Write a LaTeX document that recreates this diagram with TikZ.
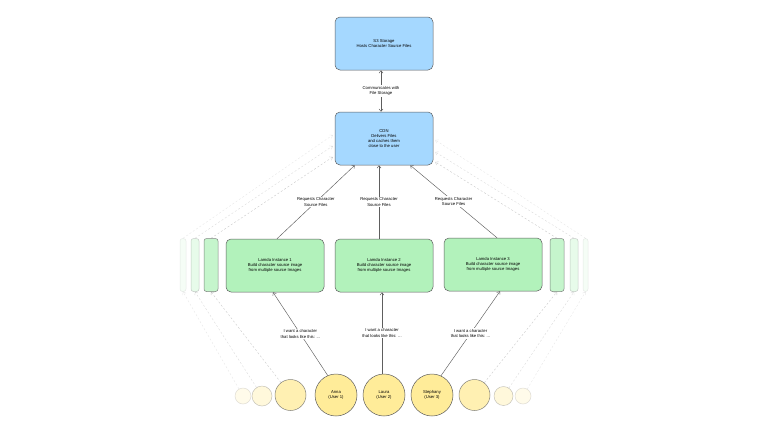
\documentclass[tikz,border=0pt]{standalone}
\usepackage{fontspec}
\setmainfont{Liberation Sans}
\usetikzlibrary{arrows.meta, positioning}

\definecolor{cdnblue}{HTML}{A5D8FF}
\definecolor{lamgreen}{HTML}{B2F2BB}
\definecolor{useryellow}{HTML}{FFEC99}
\definecolor{edgegray}{HTML}{5E5E5E}
\newcommand{\diagfont}{\fontsize{4.2}{5.3}\selectfont}

\begin{document}
\begin{tikzpicture}[
    x=1pt, y=-1pt,
    >={Straight Barb[length=2.5pt, width=4pt]},
    every node/.style={font=\diagfont, align=center, inner sep=1pt},
    service/.style={draw=edgegray, rounded corners=5pt, minimum width=98pt, minimum height=53pt, line width=0.5pt},
    storebox/.style={service, fill=cdnblue},
    lambox/.style={service, fill=lamgreen},
    ghostbox/.style={draw=edgegray, fill=lamgreen, rounded corners=2.5pt, minimum height=53pt, inner sep=0pt, line width=0.5pt},
    user/.style={circle, draw=edgegray, fill=useryellow, minimum size=42pt, inner sep=0pt, line width=0.5pt},
    ghostuser/.style={circle, draw=edgegray, fill=useryellow, inner sep=0pt, line width=0.5pt},
    flow/.style={->, draw=edgegray, line width=0.45pt},
    ghostflow/.style={->, draw=gray, line width=0.35pt, dash pattern=on 2pt off 2pt},
    lbl/.style={fill=white, inner sep=1pt},
  ]
  \useasboundingbox (0,0) rectangle (768,432);
  \fill[white] (0,0) rectangle (768,432);

  % Storage and CDN
  \node[storebox] (s3) at (384,43.5) {S3 Storage\\Hosts Character Source Files};
  \node[storebox] (cdn) at (384,138.5) {CDN\\Delivers Files\\and caches them\\close to the user};

  % Lamda instances
  \node[lambox] (lam1) at (275,265.5) {Lamda Instance 1\\Build character source image\\from multiple source Images};
  \node[lambox] (lam2) at (384,265.5) {Lamda Instance 2\\Build character source image\\from multiple source Images};
  \node[lambox] (lam3) at (493,264.5) {Lamda Instance 3\\Build character source image\\from multiple source Images};

  % Faded instances
  \node[ghostbox, minimum width=14pt, opacity=0.75] (gl1) at (211,265) {};
  \node[ghostbox, minimum width=8pt, opacity=0.3] (gl2) at (195,265) {};
  \node[ghostbox, minimum width=6pt, opacity=0.12] (gl3) at (183,265) {};
  \node[ghostbox, minimum width=14pt, opacity=0.75] (gr1) at (557,265) {};
  \node[ghostbox, minimum width=8pt, opacity=0.3] (gr2) at (574,265) {};
  \node[ghostbox, minimum width=5pt, opacity=0.12] (gr3) at (585.5,265) {};

  % Users
  \node[user] (anna) at (336,395) {Anna\\(User 1)};
  \node[user] (laura) at (384,395) {Laura\\(User 2)};
  \node[user] (steph) at (432,395) {Stephany\\(User 3)};

  % Faded users
  \node[ghostuser, minimum size=31pt, opacity=0.75] (gc1) at (290.5,395) {};
  \node[ghostuser, minimum size=20pt, opacity=0.35] (gc2) at (262,396) {};
  \node[ghostuser, minimum size=16pt, opacity=0.2] (gc3) at (243,396) {};
  \node[ghostuser, minimum size=31pt, opacity=0.75] (gd1) at (474.5,395) {};
  \node[ghostuser, minimum size=19pt, opacity=0.35] (gd2) at (503.5,396) {};
  \node[ghostuser, minimum size=16pt, opacity=0.2] (gd3) at (523,396) {};

  % Connections
  \draw[flow, <->] ([xshift=-3pt]s3.south) -- node[lbl] {Communicates with\\File Storage} ([xshift=-3pt]cdn.north);
  \draw[flow] ([xshift=2pt]lam1.north) -- node[lbl] {Requests Character\\Source Files} ([xshift=20pt]cdn.south west);
  \draw[flow] ([xshift=-5pt]lam2.north) -- node[lbl] {Requests Character\\Source Files} ([xshift=-5pt]cdn.south);
  \draw[flow] ([xshift=4pt]lam3.north) -- node[lbl] {Requests Character\\Source Files} ([xshift=-23pt]cdn.south east);
  \draw[flow] (anna.113) -- node[lbl] {I want a character\\that looks like this: ...} ([xshift=-2pt]lam1.south);
  \draw[flow] ([xshift=-2pt]laura.north) -- node[lbl] {I want a character\\that looks like this: ...} ([xshift=-2pt]lam2.south);
  \draw[flow] (steph.65) -- node[lbl] {I want a character\\that looks like this: ...} ([xshift=7pt]lam3.south);

  % Faded connections
  \draw[ghostflow, opacity=0.45] (gl1.north) -- ([xshift=-2pt, yshift=-18.5pt]cdn.west);
  \draw[ghostflow, opacity=0.3] (gl2.north) -- ([xshift=-2pt, yshift=-7.5pt]cdn.west);
  \draw[ghostflow, opacity=0.2] (gl3.north) -- ([xshift=-2pt, yshift=3.5pt]cdn.west);
  \draw[ghostflow, opacity=0.45] (gr1.north) -- ([xshift=2pt, yshift=-23.5pt]cdn.east);
  \draw[ghostflow, opacity=0.3] (gr2.north) -- ([xshift=2pt, yshift=-13.5pt]cdn.east);
  \draw[ghostflow, opacity=0.2] (gr3.north) -- ([xshift=2pt, yshift=-1.5pt]cdn.east);
  \draw[ghostflow, opacity=0.45] (gc1) -- (gl1.south);
  \draw[ghostflow, opacity=0.3] (gc2) -- (gl2.south);
  \draw[ghostflow, opacity=0.2] (gc3) -- (gl3.south);
  \draw[ghostflow, opacity=0.45] (gd1) -- (gr1.south);
  \draw[ghostflow, opacity=0.3] (gd2) -- (gr2.south);
  \draw[ghostflow, opacity=0.2] (gd3) -- (gr3.south);
\end{tikzpicture}
\end{document}
